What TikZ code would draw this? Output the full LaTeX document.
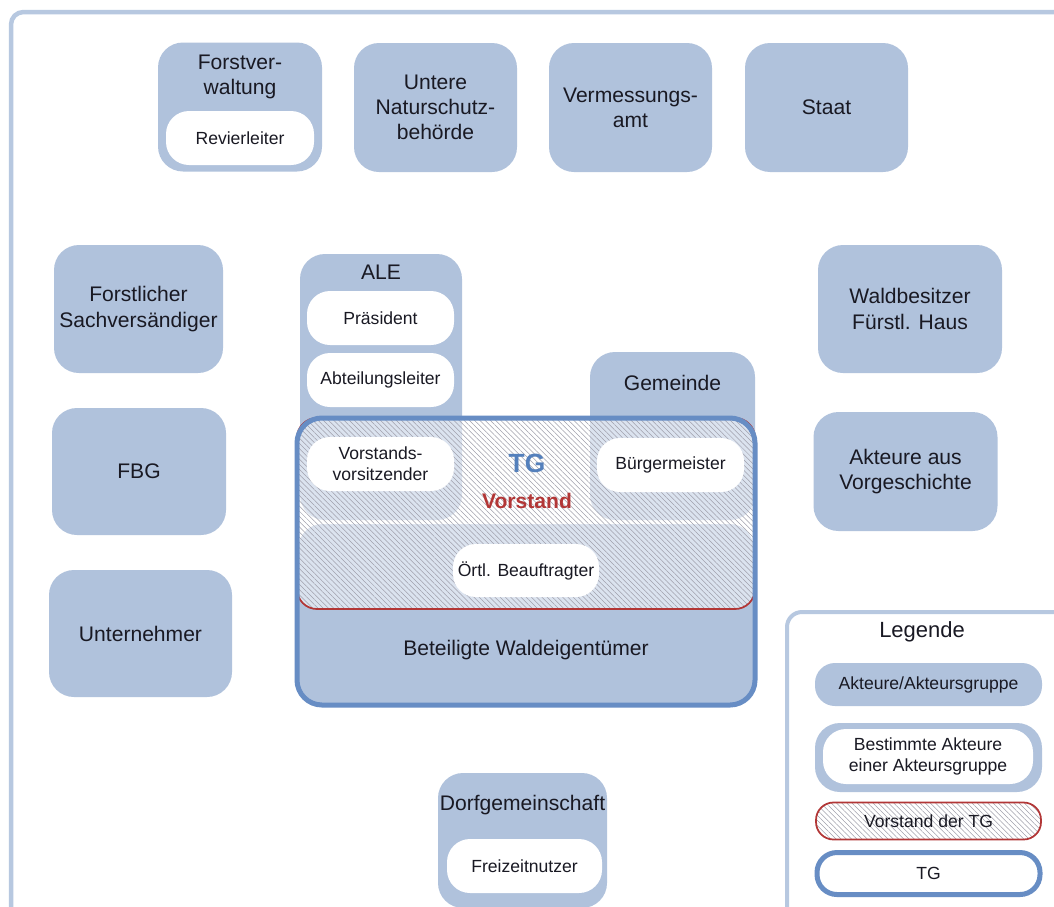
\documentclass[tikz,border=0pt]{standalone}
\usepackage{fontspec}
\setmainfont{Liberation Sans}
\usetikzlibrary{positioning,patterns.meta}

\definecolor{akblau}{RGB}{176,194,220}
\definecolor{tgblau}{RGB}{103,141,196}
\definecolor{rahmen}{RGB}{183,200,224}
\definecolor{vsrot}{RGB}{178,54,54}
\definecolor{tgtext}{RGB}{84,128,188}
\definecolor{schrift}{RGB}{25,25,35}
\definecolor{schraffgrau}{RGB}{160,160,172}

\tikzset{
  sz/.style 2 args={minimum width=#1*0.2mm, minimum height=#2*0.2mm},
  akteur/.style={rectangle, fill=akblau, rounded corners=5mm, inner sep=0pt,
                 align=center, text=schrift, font=\fontsize{12}{14.4}\selectfont},
  person/.style={rectangle, fill=white, rounded corners=4.6mm, inner sep=0pt,
                 align=center, text=schrift, font=\fontsize{10}{12}\selectfont},
  titel/.style={inner sep=0pt, align=center, text=schrift, font=\fontsize{12}{14.4}\selectfont},
  schraffur/.style={preaction={fill=white, fill opacity=0.55},
                    pattern={Lines[angle=-45,distance=2.1pt,line width=0.3pt]},
                    pattern color=schraffgrau}
}

\begin{document}
\begin{tikzpicture}[x=0.2mm, y=-0.2mm]
\useasboundingbox (0,0) rectangle (1054,906);
\clip (0,0) rectangle (1054,906);
\fill[white] (0,0) rectangle (1054,906);
\draw[rahmen, line width=0.9mm, rounded corners=2.5mm] (11,12) rectangle (1080,940);

\node[akteur, sz={164}{129}] (forst) at (240,107) {};
\node[titel] (forsttitel) at (240,77) {Forstver-\\waltung};
\node[person, sz={148}{54}] (revier) at (240,138) {Revierleiter};
\node[akteur, sz={163}{129}] (unb) at (435.5,107.5) {Untere\\Naturschutz-\\behörde};
\node[akteur, sz={163}{129}] (verm) at (630.5,107.5) {Vermessungs-\\amt};
\node[akteur, sz={163}{129}] (staat) at (826.5,107.5) {Staat};

\node[akteur, sz={169}{128}] (sachv) at (138.5,309) {Forstlicher\\Sachversändiger};
\node[akteur, sz={174}{127}] (fbg) at (139,471.5) {FBG};
\node[akteur, sz={183}{127}] (untern) at (140.5,633.5) {Unternehmer};

\node[akteur, sz={184}{128}] (fhaus) at (910,309) {Waldbesitzer\\Fürstl. Haus};
\node[akteur, sz={184}{119}] (vorg) at (905.5,471.5) {Akteure aus\\Vorgeschichte};

\node[akteur, sz={169}{135}] (dorf) at (522.5,840.5) {};
\node[titel] (dorftitel) at (522.5,805) {Dorfgemeinschaft};
\node[person, sz={155}{54}] (freizeit) at (524.5,866) {Freizeitnutzer};

\node[akteur, sz={162}{266}] (ale) at (381,387) {};
\node[titel] (aletitel) at (381,272) {ALE};
\node[person, sz={147}{54}] (praes) at (380.5,318) {Präsident};
\node[person, sz={147}{54}] (abtl) at (380.5,380) {Abteilungsleiter};
\node[akteur, sz={165}{168}] (gem) at (672.5,436) {};
\node[titel] (gemtitel) at (672.5,383) {Gemeinde};

\node[akteur, draw=white, line width=0.6mm, sz={458}{183}] (wald) at (526,614) {};
\node[titel] (waldtitel) at (526,650) {Beteiligte Waldeigentümer};

\node[schraffur, draw=vsrot, line width=0.35mm, rounded corners=4mm, sz={458}{191}] (vorstand) at (526,513.5) {};
\node[person, sz={147}{54}] (vvors) at (380.5,464) {Vorstands-\\vorsitzender};
\node[person, sz={147}{54}] (bgm) at (670.5,465) {Bürgermeister};
\node[person, sz={146}{53}] (oertl) at (526,570.5) {Örtl. Beauftragter};
\node[titel, text=tgtext, font=\bfseries\fontsize{15}{18}\selectfont] (tgtitel) at (527,463) {TG};
\node[titel, text=vsrot, font=\bfseries\fontsize{12}{14.4}\selectfont] (vstitel) at (527,501) {Vorstand};

\node[draw=tgblau, line width=1mm, rounded corners=5mm, sz={458}{287}] (tg) at (526,561.5) {};

\draw[rahmen, line width=0.8mm, rounded corners=3mm] (787,612) rectangle (1090,940);
\node[titel, font=\fontsize{12.5}{15}\selectfont] (legtitel) at (922,632) {Legende};
\node[akteur, rounded corners=4mm, sz={227}{43}, font=\fontsize{10}{12}\selectfont] (legak) at (928.5,684.5) {Akteure/Akteursgruppe};
\node[akteur, sz={227}{69}] (legbest) at (928.5,757.5) {};
\node[person, sz={210}{55}] (legbestin) at (928,756.5) {Bestimmte Akteure\\einer Akteursgruppe};
\node[schraffur, draw=vsrot, line width=0.35mm, rounded corners=3.5mm, sz={225}{37},
      inner sep=0pt, text=schrift, font=\fontsize{10}{12}\selectfont] (legvs) at (928.5,821) {Vorstand der TG};
\node[person, draw=tgblau, line width=1mm, rounded corners=4mm, sz={223}{42}] (legtg) at (928.5,873.5) {TG};
\end{tikzpicture}
\end{document}
